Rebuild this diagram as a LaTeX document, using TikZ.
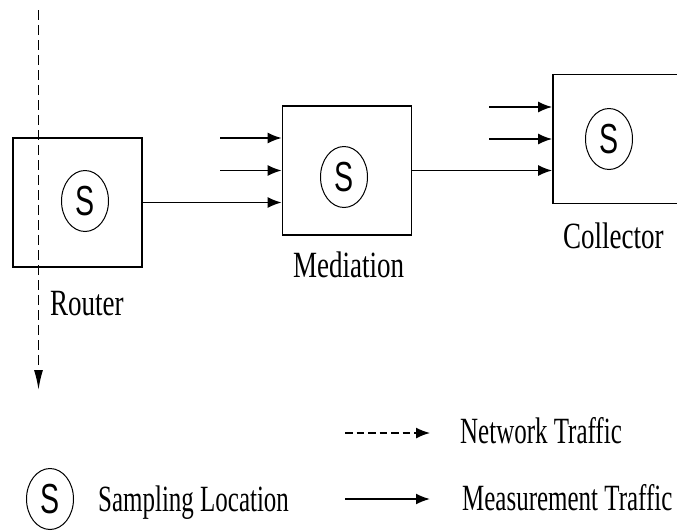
\documentclass[tikz,border=0pt]{standalone}
\usepackage{fontspec}
\setmainfont{Liberation Serif}[FakeStretch=0.73]
\newfontfamily\legfont{Liberation Serif}[FakeStretch=0.675]
\newfontfamily\sletter{Liberation Sans}[FakeStretch=0.68]
\usetikzlibrary{arrows.meta,shapes.geometric}
\begin{document}
\begin{tikzpicture}[x=1pt,y=-1pt,
  unit/.style={draw,line width=1.6pt,inner sep=0pt,minimum width=129pt,minimum height=129pt},
  samp/.style={draw,ellipse,line width=1pt,inner sep=0pt,minimum width=47pt,minimum height=61pt,
    font=\sletter\fontsize{42}{42}\selectfont},
  lbl/.style={inner sep=0pt,anchor=base west,font=\fontsize{37}{40}\selectfont},
  leg/.style={lbl,font=\legfont\fontsize{37}{40}\selectfont},
  meas/.style={line width=1.8pt,-{Latex[length=14pt,width=11pt]}},
  net/.style={line width=1.5pt,dash pattern=on 10pt off 5pt,-{Latex[length=20pt,width=9pt]}},
  netleg/.style={line width=1.5pt,dash pattern=on 7.5pt off 4pt,-{Latex[length=14pt,width=11pt]}}]
\useasboundingbox (0,0) rectangle (677,531);
\clip (0,0) rectangle (677,531);

% processing units
\node[unit] (router) at (77.5,202.5) {};
\node[unit] (med) at (347,170.5) {};
\node[unit,minimum width=160pt] (coll) at (633,139) {};

% sampling points inside the units
\node[samp] (rs) at (85,201) {S};
\node[samp] (ms) at (344,177) {S};
\node[samp] (cs) at (609,139) {S};

% unit names
\node[lbl] (rlab) at (50,315) {Router};
\node[lbl] (mlab) at (293,277) {Mediation};
\node[lbl] (clab) at (563,248) {Collector};

% network traffic through the router
\coordinate (nt0) at (38.5,10);
\coordinate (nt1) at (38.5,390);
\draw[net] (nt0) -- (nt1);

% measurement traffic into the mediation device
\coordinate (m1) at (220,138);
\coordinate (m2) at (220,170.5);
\draw[meas] (m1) -- (m1 -| med.west);
\draw[meas] (m2) -- (med.west);
\draw[meas] (router.east) -- (router.east -| med.west);

% measurement traffic into the collector
\coordinate (c1) at (489,107);
\coordinate (c2) at (489,139);
\draw[meas] (c1) -- (c1 -| coll.west);
\draw[meas] (c2) -- (coll.west);
\draw[meas] (med.east) -- (med.east -| coll.west);

% legend
\node[samp] (ls) at (50,499) {S};
\node[leg] (llab) at (98,511) {Sampling Location};
\coordinate (ln0) at (345,433);
\coordinate (ln1) at (430,433);
\draw[netleg] (ln0) -- (ln1);
\node[leg] (lnlab) at (460,443) {Network Traffic};
\coordinate (lm0) at (345,499);
\coordinate (lm1) at (430,499);
\draw[meas] (lm0) -- (lm1);
\node[leg] (lmlab) at (462,510) {Measurement Traffic};
\end{tikzpicture}
\end{document}
